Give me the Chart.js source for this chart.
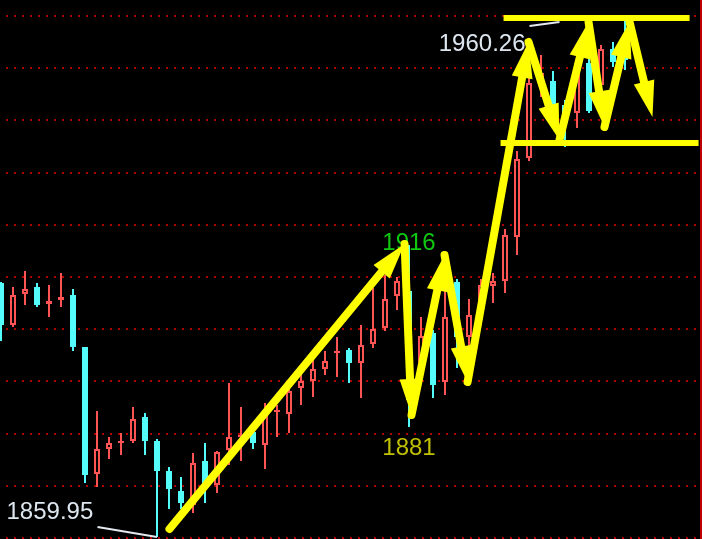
<!DOCTYPE html>
<html>
<head>
<meta charset="utf-8">
<script src="https://cdn.jsdelivr.net/npm/chart.js@4"></script>
<style>
  html, body { margin: 0; padding: 0; background: #000; }
  #wrap { width: 702px; height: 539px; }
</style>
</head>
<body>
<div id="wrap"><canvas id="kline" width="702" height="539"></canvas></div>
<script>
'use strict';

// ── DATA ───────────────────────────────────────────────────
const OPEN = [1909.33, 1901.16, 1907.19, 1908.55, 1905.25, 1906.02, 1906.99, 1896.89, 1872.20, 1877.06,
  1878.22, 1878.61, 1883.28, 1878.61, 1872.78, 1868.89, 1866.17, 1874.72, 1870.06, 1876.86,
  1879.39, 1880.36, 1877.83, 1884.25, 1883.86, 1888.92, 1890.28, 1892.61, 1895.72, 1896.30,
  1893.78, 1897.47, 1900.58, 1906.80, 1907.77, 1893.97, 1899.61, 1890.08, 1909.52, 1898.83,
  1904.08, 1908.74, 1909.72, 1918.27, 1933.63, 1948.21, 1948.60, 1943.93, 1942.38, 1952.10,
  1947.82, 1954.82, 1956.57];
const HIGH = [1909.52, 1908.55, 1911.66, 1909.33, 1908.94, 1911.27, 1908.16, 1896.89, 1884.44, 1879.39,
  1880.17, 1885.22, 1884.06, 1879.00, 1873.56, 1871.61, 1876.28, 1878.22, 1876.67, 1889.89,
  1885.22, 1880.56, 1886.00, 1885.61, 1890.47, 1893.39, 1894.36, 1896.11, 1898.83, 1896.69,
  1901.16, 1908.36, 1910.88, 1910.49, 1916.71, 1902.72, 1900.19, 1907.97, 1910.11, 1906.22,
  1910.11, 1911.27, 1919.83, 1934.99, 1950.73, 1953.65, 1950.54, 1944.90, 1953.26, 1955.01,
  1955.59, 1956.18, 1960.26];
const LOW = [1898.05, 1900.77, 1905.05, 1904.66, 1902.72, 1904.66, 1896.11, 1870.45, 1869.67, 1875.11,
  1875.89, 1878.22, 1875.89, 1859.95, 1865.39, 1865.39, 1864.62, 1866.56, 1868.50, 1873.95,
  1874.72, 1877.06, 1873.17, 1879.39, 1880.17, 1885.61, 1887.17, 1891.44, 1891.05, 1889.89,
  1886.97, 1896.69, 1900.00, 1904.08, 1881.33, 1893.39, 1886.97, 1887.55, 1892.80, 1896.30,
  1902.52, 1905.44, 1907.38, 1914.77, 1933.04, 1945.49, 1942.96, 1935.77, 1939.46, 1942.38,
  1946.85, 1951.32, 1950.73];
const CLOSE = [1901.16, 1906.99, 1908.16, 1905.05, 1905.83, 1906.61, 1896.89, 1872.00, 1877.06, 1878.22,
  1878.61, 1882.89, 1878.61, 1872.78, 1869.28, 1866.56, 1874.34, 1870.45, 1876.47, 1879.39,
  1879.78, 1878.22, 1883.67, 1884.64, 1888.33, 1890.28, 1892.61, 1894.16, 1896.11, 1893.78,
  1897.27, 1900.39, 1906.22, 1909.72, 1886.58, 1899.02, 1889.50, 1902.72, 1898.83, 1903.11,
  1908.94, 1909.72, 1918.66, 1933.43, 1948.21, 1950.15, 1943.54, 1941.99, 1952.10, 1942.76,
  1954.82, 1952.29, 1952.68];
const BARS = OPEN.map((_, i) => i);

// horizontal dotted grid levels (price)
const GRID_LEVELS = [1859.76, 1869.90, 1880.05, 1890.20, 1900.35, 1910.49, 1920.64, 1930.79, 1940.94, 1951.09, 1961.23];

// price labels: [text, bar index, price, align, color]
const PRICE_LABELS = [
  ['1960.26', 43.71, 1954.43, 'right', '#dde6ef'],
  ['1859.95', 0.46, 1863.45, 'left', '#dde6ef'],
  ['1916', 34, 1915.74, 'center', '#10c810'],
  ['1881', 34, 1875.89, 'center', '#c0c000']
];
// leader lines from labels to the extreme bars: [[idx, price], [idx, price]]
const LEADERS = [
  [[8.04, 1861.89], [13, 1859.95]],
  [[44.04, 1959.29], [46.54, 1960.07]]
];

// hand-drawn yellow trend arrows (bar index, price), each leg ends with an arrowhead
const ARROW_PATH = [[14.04, 1861.51], [33.63, 1916.91], [34.21, 1883.67], [36.96, 1914.77], [38.88, 1890.08],
  [43.96, 1956.18], [46.54, 1937.13], [48.96, 1960.07], [50.29, 1939.65], [52.38, 1960.07], [54.29, 1941.60]];
// box lines: [from idx, to idx, price]
const BOX_LINES = [[41.88, 57.38, 1960.84], [41.63, 58.13, 1936.54]];

// ── STYLE ──────────────────────────────────────────────────
const UP = '#ff5454';
const DOWN = '#54fcfc';
const YELLOW = '#ffff00';
const FONT = '24px "Liberation Sans", Arial, sans-serif';

const isUp = i => CLOSE[i] >= OPEN[i];
const candleColor = ctx => isUp(ctx.dataIndex) ? UP : DOWN;

// ── OVERLAY PLUGIN ─────────────────────────────────────────
function drawArrow(ctx, x1, y1, x2, y2) {
    const ang = Math.atan2(y2 - y1, x2 - x1);
    const hl = 36, hw = 10.5;
    const c = Math.cos(ang), s = Math.sin(ang);
    const bx = x2 - hl * c, by = y2 - hl * s;
    ctx.lineWidth = 8;
    ctx.lineCap = 'round';
    ctx.beginPath(); ctx.moveTo(x1, y1); ctx.lineTo(bx, by); ctx.stroke();
    ctx.beginPath();
    ctx.moveTo(x2, y2);
    ctx.lineTo(bx - hw * s, by + hw * c);
    ctx.lineTo(bx + hw * s, by - hw * c);
    ctx.closePath();
    ctx.fill();
}

const overlay = {
    id: 'overlay',
    beforeDraw(chart) {
        const ctx = chart.ctx;
        ctx.save();
        ctx.fillStyle = '#000';
        ctx.fillRect(0, 0, chart.width, chart.height);
        ctx.restore();
    },
    afterDatasetsDraw(chart) {
        const { ctx, scales: { x, y }, chartArea } = chart;
        const px = p => [x.getPixelForValue(p[0]), y.getPixelForValue(p[1])];
        ctx.save();

        // right frame line
        ctx.fillStyle = '#c00000';
        ctx.fillRect(chartArea.right, 0, 2, chart.height);

        // leader lines
        ctx.strokeStyle = '#e4e8f0';
        ctx.lineWidth = 2;
        LEADERS.forEach(([a, b]) => {
            const [x1, y1] = px(a), [x2, y2] = px(b);
            ctx.beginPath(); ctx.moveTo(x1, y1); ctx.lineTo(x2, y2); ctx.stroke();
        });

        // price labels
        ctx.font = FONT;
        ctx.textBaseline = 'alphabetic';
        PRICE_LABELS.forEach(([t, i, v, align, color]) => {
            ctx.fillStyle = color;
            ctx.textAlign = align;
            ctx.fillText(t, x.getPixelForValue(i), y.getPixelForValue(v));
        });

        // box lines
        ctx.fillStyle = YELLOW;
        ctx.strokeStyle = YELLOW;
        BOX_LINES.forEach(([a, b, v]) => {
            const yy = y.getPixelForValue(v);
            const xa = x.getPixelForValue(a), xb = x.getPixelForValue(b);
            ctx.fillRect(xa, yy - 3, xb - xa, 6);
        });

        // arrows
        for (let k = 1; k < ARROW_PATH.length; k++) {
            const [x1, y1] = px(ARROW_PATH[k - 1]);
            const [x2, y2] = px(ARROW_PATH[k]);
            drawArrow(ctx, x1, y1, x2, y2);
        }
        ctx.restore();
    }
};

// ── CHART ──────────────────────────────────────────────────
new Chart(document.getElementById('kline'), {
    type: 'bar',
    data: {
        datasets: [
            {
                label: 'body',
                data: BARS.map(i => ({ x: i, y: [OPEN[i], CLOSE[i]] })),
                grouped: false,
                maxBarThickness: 6,
                backgroundColor: ctx => isUp(ctx.dataIndex) ? '#000' : DOWN,
                borderColor: candleColor,
                borderWidth: ctx => isUp(ctx.dataIndex) ? 2 : 0,
                borderSkipped: false,
                inflateAmount: 0
            },
            {
                label: 'wick',
                data: BARS.map(i => ({ x: i, y: [LOW[i], HIGH[i]] })),
                grouped: false,
                maxBarThickness: 2,
                backgroundColor: candleColor,
                borderWidth: 0,
                inflateAmount: 0
            }
        ]
    },
    options: {
        responsive: false,
        animation: false,
        layout: { padding: { right: 2 } },
        plugins: { legend: { display: false }, tooltip: { enabled: false } },
        scales: {
            x: {
                type: 'linear',
                display: false,
                offset: false,
                min: -1 / 12,
                max: -1 / 12 + 700 / 12
            },
            y: {
                position: 'right',
                min: 1859.56,
                max: 1964.34,
                afterBuildTicks: scale => { scale.ticks = GRID_LEVELS.map(v => ({ value: v })); },
                ticks: { display: false },
                grid: { color: '#b00000', lineWidth: 2, drawTicks: false },
                border: { display: false, dash: [2, 6], dashOffset: 2 }
            }
        }
    },
    plugins: [overlay]
});
</script>
</body>
</html>
